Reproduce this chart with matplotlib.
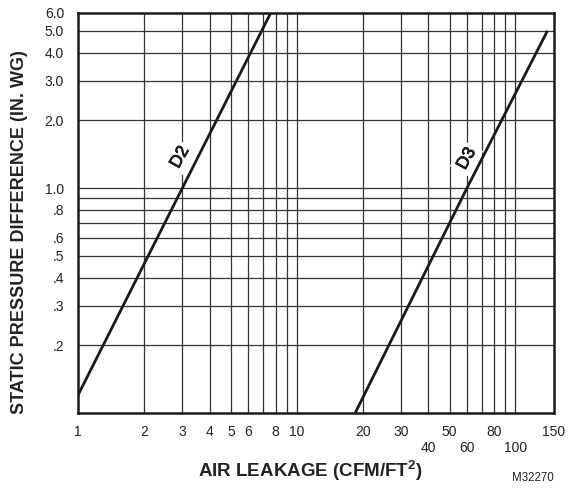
import matplotlib
matplotlib.use("Agg")
import matplotlib.pyplot as plt
import matplotlib.patheffects as pe

plt.rcParams['font.family'] = ['Liberation Sans', 'DejaVu Sans']
plt.rcParams['mathtext.fontset'] = 'custom'
plt.rcParams['mathtext.rm'] = 'Liberation Sans'
plt.rcParams['mathtext.bf'] = 'Liberation Sans:bold'

# Data (log-log)
d2_x = [1.0, 3.0, 7.6]
d2_y = [0.12, 1.0, 6.0]
d3_x = [18.5, 60.0, 140.0]
d3_y = [0.1, 1.0, 5.0]

x_grid = [2, 3, 4, 5, 6, 7, 8, 9, 10, 20, 30, 40, 50, 60, 70, 80, 90, 100]
x_ticks = [1, 2, 3, 4, 5, 6, 8, 10, 20, 30, 40, 50, 60, 80, 100, 150]
x_labels = ['1', '2', '3', '4', '5', '6', '8', '10', '20', '30', '\n40', '50', '\n60', '80', '\n100', '150']
y_grid = [0.2, 0.3, 0.4, 0.5, 0.6, 0.7, 0.8, 0.9, 1, 2, 3, 4, 5]
y_ticks = [0.2, 0.3, 0.4, 0.5, 0.6, 0.8, 1, 2, 3, 4, 5, 6]
y_labels = ['.2', '.3', '.4', '.5', '.6', '.8', '1.0', '2.0', '3.0', '4.0', '5.0', '6.0']

fig = plt.figure(figsize=(5.70, 4.88), dpi=100)
ax = fig.add_axes([78/570, 1-413/488, (554-78)/570, (413-13)/488])
ax.set_xscale('log')
ax.set_yscale('log')
ax.set_xlim(1, 150)
ax.set_ylim(0.1, 6.0)

gcol = '#333333'
for xv in x_grid:
    ax.axvline(xv, color=gcol, lw=0.9, zorder=1)
for yv in y_grid:
    ax.axhline(yv, color=gcol, lw=0.9, zorder=1)

ax.plot(d2_x, d2_y, color='#1a1a1a', lw=2.0, zorder=4, solid_capstyle='butt')
ax.plot(d3_x, d3_y, color='#1a1a1a', lw=2.0, zorder=4, solid_capstyle='butt')

bb = dict(facecolor='white', edgecolor='none', pad=2.5)
thick = [pe.withStroke(linewidth=0.6, foreground='#1a1a1a')]
ax.text(2.92, 1.37, 'D2', rotation=61, ha='center', va='center', fontsize=12.5,
        color='#1a1a1a', bbox=bb, zorder=3, path_effects=thick)
ax.text(59.7, 1.35, 'D3', rotation=61, ha='center', va='center', fontsize=12.5,
        color='#1a1a1a', bbox=bb, zorder=3, path_effects=thick)

ax.set_xticks(x_ticks)
ax.set_xticklabels(x_labels, fontsize=10, color='#222222', va='top', linespacing=1.15)
ax.set_xticks([], minor=True)
ax.set_yticks(y_ticks)
ax.set_yticklabels(y_labels, fontsize=10, color='#222222')
ax.set_yticks([], minor=True)
ax.tick_params(axis='both', length=0)
ax.tick_params(axis='x', pad=9)
ax.tick_params(axis='y', pad=10)

for s in ax.spines.values():
    s.set_linewidth(1.8)
    s.set_color('#1a1a1a')
    s.set_zorder(5)

fig.text(20/570, 1-232/488, 'STATIC PRESSURE DIFFERENCE (IN. WG)', rotation=90,
         ha='center', va='center', fontsize=13.0, fontweight='bold', color='#222222')
fig.text(310/570, 1-471/488, r'AIR LEAKAGE (CFM/FT$^{\mathbf{2}}$)', ha='center', va='center',
         fontsize=13.5, fontweight='bold', color='#222222')
fig.text(533/570, 1-478/488, 'M32270', ha='center', va='center', fontsize=8.3, color='#222222')

fig.savefig('out.png', dpi=100)
